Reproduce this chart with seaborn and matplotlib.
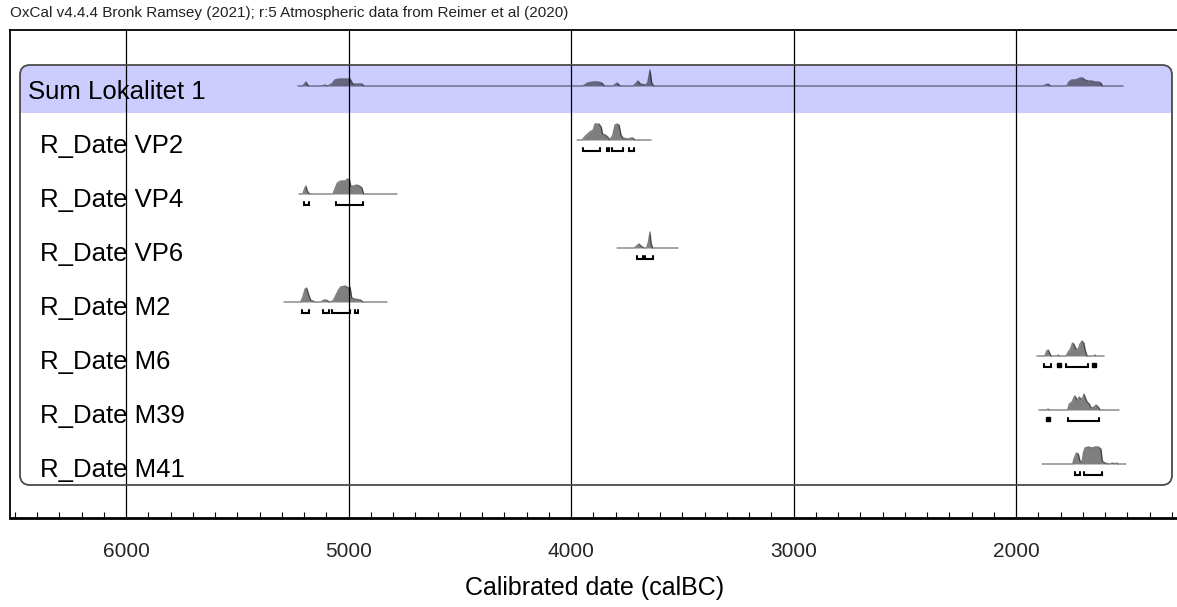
import numpy as np
import pandas as pd
import matplotlib
matplotlib.use("Agg")
import matplotlib.pyplot as plt
import seaborn as sns
from matplotlib.patches import FancyBboxPatch, Rectangle
from matplotlib.ticker import MultipleLocator, FixedLocator
import matplotlib.transforms as mtrans

# ---------------- data ----------------
title_text = "OxCal v4.4.4 Bronk Ramsey (2021); r:5 Atmospheric data from Reimer et al (2020)"
x_label = "Calibrated date (calBC)"
tick_values = [6000, 5000, 4000, 3000, 2000]
tick_labels = ["6000", "5000", "4000", "3000", "2000"]

labels = ["Sum Lokalitet 1", "R_Date VP2", "R_Date VP4", "R_Date VP6",
          "R_Date M2", "R_Date M6", "R_Date M39", "R_Date M41"]

# calBC dates and relative probability
dates_sum = [5227, 5205, 5191, 5180, 5120, 5106, 5095, 5075, 5061, 5040, 5010, 4993, 4980, 4960, 4939, 4930,
             3973, 3946, 3925, 3900, 3880, 3861, 3850, 3810, 3793, 3778, 3720, 3710, 3699, 3688, 3665, 3655,
             3645, 3637, 3628, 1880, 1856, 1845, 1771, 1762, 1750, 1735, 1720, 1712, 1700, 1690, 1675, 1660,
             1645, 1630, 1618, 1612, 1519]
prob_sum = [0, 0, 4, 0, 0, 1, 0, 2, 6, 7, 7, 7, 2, 2, 2, 0,
            0, 0, 3, 4, 4, 3, 0, 0, 3, 0, 0, 2, 5, 2, 1, 3,
            16, 3, 0, 0, 2, 0, 0, 4, 6, 6, 7, 8, 8, 6, 5, 5,
            4, 4, 3, 0, 0]

dates_vp2 = [3973, 3950, 3935, 3915, 3900, 3892, 3874, 3864, 3858, 3845, 3835, 3825, 3812, 3802, 3793,
             3784, 3775, 3766, 3745, 3730, 3722, 3712, 3700, 3640]
prob_vp2 = [0, 0, 4, 8, 10, 16, 16, 13, 6, 5, 3, 0, 5, 15, 16, 15, 5, 2, 1, 2, 2, 0, 0, 0]

dates_vp4 = [5222, 5205, 5196, 5191, 5185, 5175, 5070, 5061, 5050, 5035, 5015, 5005, 4995, 4990, 4975,
             4965, 4950, 4939, 4932, 4782]
prob_vp4 = [0, 0, 6, 8, 3, 0, 0, 5, 11, 13, 13, 15, 14, 8, 8, 9, 8, 6, 0, 0]

dates_vp6 = [3793, 3715, 3700, 3694, 3685, 3670, 3660, 3652, 3645, 3640, 3633, 3519]
prob_vp6 = [0, 0, 3, 4, 2, 0, 0, 6, 16, 5, 0, 0]

dates_m2 = [5290, 5215, 5205, 5195, 5188, 5180, 5170, 5150, 5125, 5110, 5100, 5085, 5070, 5060, 5045,
            5035, 5015, 5000, 4993, 4985, 4970, 4945, 4935, 4827]
prob_m2 = [0, 0, 5, 13, 14, 8, 2, 0, 0, 2, 2, 0, 1, 5, 12, 15, 16, 14, 15, 4, 3, 2, 0, 0]

dates_m6 = [1906, 1870, 1862, 1855, 1842, 1815, 1810, 1805, 1775, 1765, 1755, 1746, 1740, 1730, 1720,
            1712, 1703, 1695, 1688, 1680, 1650, 1645, 1640, 1604]
prob_m6 = [0, 0, 5, 6, 0, 0, 1, 0, 0, 4, 7, 13, 12, 7, 7, 12, 15, 13, 5, 0, 0, 1, 0, 0]

dates_m39 = [1897, 1862, 1856, 1850, 1768, 1760, 1748, 1740, 1735, 1725, 1715, 1710, 1700, 1694, 1688,
             1680, 1670, 1662, 1650, 1640, 1630, 1622, 1537]
prob_m39 = [0, 0, 1, 0, 0, 6, 8, 12, 14, 10, 13, 11, 12, 16, 12, 8, 6, 2, 3, 5, 3, 0, 0]

dates_m41 = [1883, 1745, 1738, 1728, 1720, 1712, 1703, 1696, 1690, 1675, 1660, 1645, 1630, 1618, 1612,
             1600, 1580, 1565, 1555, 1548, 1540, 1506]
prob_m41 = [0, 0, 6, 11, 10, 3, 2, 12, 16, 17, 16, 17, 17, 15, 3, 1, 0, 1, 0, 1, 0, 0]

ranges_vp2 = [(3946, 3870), (3838, 3829), (3816, 3766), (3739, 3717)]
ranges_vp4 = [(5200, 5178), (5056, 4935)]
ranges_vp6 = [(3703, 3676), (3667, 3631)]
ranges_m2 = [(5209, 5178), (5115, 5088), (5074, 4993), (4971, 4957)]
ranges_m6 = [(1874, 1843), (1808, 1805), (1776, 1676), (1650, 1647)]
ranges_m39 = [(1858, 1855), (1766, 1627)]
ranges_m41 = [(1735, 1712), (1694, 1613)]

all_dates = [dates_sum, dates_vp2, dates_vp4, dates_vp6, dates_m2, dates_m6, dates_m39, dates_m41]
all_probs = [prob_sum, prob_vp2, prob_vp4, prob_vp6, prob_m2, prob_m6, prob_m39, prob_m41]
all_ranges = [[], ranges_vp2, ranges_vp4, ranges_vp6, ranges_m2, ranges_m6, ranges_m39, ranges_m41]

# ---------------- layout ----------------
W, H = 1177, 607
sns.set_theme(style="white")
plt.rcParams['font.family'] = ['Liberation Sans', 'DejaVu Sans']

fig = plt.figure(figsize=(W / 100, H / 100), dpi=100)
ax_left_px, ax_right_px, ax_top_px, ax_bot_px = 10, 1190, 30, 518
ax = fig.add_axes([ax_left_px / W, 1 - ax_bot_px / H,
                   (ax_right_px - ax_left_px) / W, (ax_bot_px - ax_top_px) / H])

px_per_year = 0.2225
x_left = 6000 + (126 - ax_left_px) / px_per_year
x_right = 2000 - (ax_right_px - 1016) / px_per_year
row_px = 54.0
first_base_px = 86
y_top = (ax_top_px - first_base_px) / row_px
y_bot = (ax_bot_px - first_base_px) / row_px
scale = 1.0 / row_px

# long-form frame for seaborn
rows = []
for i, (d, p) in enumerate(zip(all_dates, all_probs)):
    for dd, pp in zip(d, p):
        rows.append({"sample": labels[i], "date": dd, "y": i - pp * scale})
df = pd.DataFrame(rows)

# rounded box + highlighted band
box = FancyBboxPatch(((20 - ax_left_px) / 1180, (ax_bot_px - 485) / 488),
                     (1172 - 20) / 1180, (485 - 65) / 488,
                     boxstyle="round,pad=0,rounding_size=0.0085",
                     mutation_aspect=1180 / 488,
                     transform=ax.transAxes, facecolor="none",
                     edgecolor="#4a4a4a", lw=1.3, zorder=5)
ax.add_patch(box)
band = Rectangle((x_left, (65 - first_base_px) / row_px), x_right - x_left,
                 (113 - 65) / row_px, facecolor="#ccccff", edgecolor="none", zorder=0)
ax.add_patch(band)
band.set_clip_path(box)

# distributions
for i, (d, p) in enumerate(zip(all_dates, all_probs)):
    d = np.asarray(d, float)
    p = np.asarray(p, float)
    ax.fill_between(d, i - p * scale, i, color="black", alpha=0.5, lw=0, zorder=2)

sns.lineplot(data=df, x="date", y="y", units="sample", estimator=None, sort=False,
             color="black", alpha=0.5, lw=1.0, ax=ax, zorder=3)

# ranges (brackets)
br_off = 11 / row_px
br_tick = 3 / row_px
for i, rr in enumerate(all_ranges):
    yb = i + br_off
    for s, e in rr:
        if s - e <= 4:
            ax.plot([(s + e) / 2], [yb - br_tick / 2], marker="s", ms=2.4, color="black", zorder=4)
        else:
            ax.plot([s, s, e, e], [yb - br_tick, yb, yb, yb - br_tick], color="black", lw=1.5,
                    solid_joinstyle="miter", zorder=4)

# labels
trans = mtrans.blended_transform_factory(ax.transAxes, ax.transData)
for i, lab in enumerate(labels):
    xpx = 28 if i == 0 else 40
    ax.text((xpx - ax_left_px) / 1180, i + 6.5 / row_px, lab, transform=trans,
            ha="left", va="center", fontsize=18.5, color="black", zorder=6)

# grid lines
for tv in tick_values:
    ax.axvline(tv, color="black", lw=0.9, zorder=4.5)

ax.set_xlim(x_left, x_right)
ax.set_ylim(y_bot, y_top)
ax.set_yticks([])
ax.xaxis.set_major_locator(FixedLocator(tick_values))
ax.set_xticklabels(tick_labels, fontsize=15)
ax.xaxis.set_minor_locator(MultipleLocator(100))
ax.tick_params(axis="x", which="major", direction="in", length=0, pad=17, bottom=True)
ax.tick_params(axis="x", which="minor", direction="in", length=4.5, width=0.8, color="black", bottom=True)
ax.set_xlabel("")
ax.set_ylabel("")
for sp in ["left", "top", "bottom"]:
    ax.spines[sp].set_visible(True)
    ax.spines[sp].set_color("black")
ax.spines["left"].set_linewidth(1.3)
ax.spines["top"].set_linewidth(1.3)
ax.spines["bottom"].set_linewidth(2.0)
ax.spines["right"].set_visible(False)
ax.set_facecolor("white")
leg = ax.get_legend()
if leg is not None:
    leg.remove()

fig.text(10 / W, 1 - 13 / H, title_text, ha="left", va="center", fontsize=11, color="#222222")
fig.text(595 / W, 1 - 588 / H, x_label, ha="center", va="center", fontsize=18, color="black")

fig.savefig("out.png", dpi=100, facecolor="white")
